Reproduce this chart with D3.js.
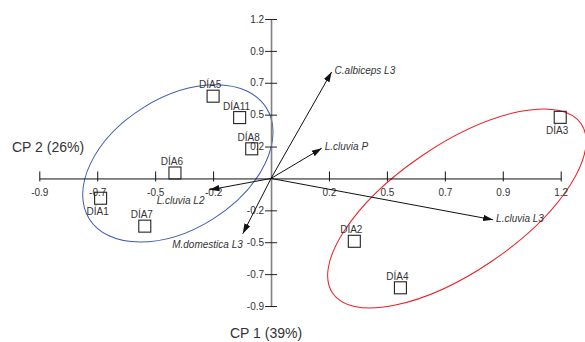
<!DOCTYPE html>
<html>
<head>
<meta charset="utf-8">
<script src="https://cdn.jsdelivr.net/npm/d3@7"></script>
<style>
  body { margin: 0; background: #fff; }
  text { font-family: "Liberation Sans", Arial, sans-serif; fill: #333; }
</style>
</head>
<body>
<div id="biplot"></div>
<script>
// samples (scores)
var dias = ["DÍA1", "DÍA2", "DÍA3", "DÍA4", "DÍA5", "DÍA6", "DÍA7", "DÍA8", "DÍA11"];
var cp1 = [-0.706, 0.345, 1.198, 0.536, -0.24, -0.398, -0.523, -0.08, -0.13];
var cp2 = [-0.149, -0.473, 0.46, -0.823, 0.619, 0.041, -0.359, 0.223, 0.458];

// species (loadings)
var species = ["C.albiceps L3", "L.cluvia P", "L.cluvia L3", "L.cluvia L2", "M.domestica L3"];
var load1 = [0.251, 0.21, 0.92, -0.255, -0.117];
var load2 = [0.801, 0.227, -0.311, -0.086, -0.416];

// group ellipses: centre, semi axes (CP1 units), tilt in degrees
var groupCx = [-0.386, 0.77];
var groupCy = [0.113, -0.226];
var groupRa = [0.433, 0.623];
var groupRb = [0.272, 0.262];
var groupTilt = [32.1, 34.3];

// ticks
var tickVals = [-0.96, -0.72, -0.48, -0.24, 0.24, 0.48, 0.72, 0.96, 1.2];
var xTickLabels = ["-0.9", "-0.7", "-0.5", "-0.2", "0.2", "0.5", "0.7", "0.9", "1.2"];
var yTickLabels = ["-0.9", "-0.7", "-0.5", "-0.2", "0.2", "0.5", "0.7", "0.9", "1.2"];

var margin = {top: 19, right: 24, bottom: 36, left: 39},
    width = 585 - margin.left - margin.right,
    height = 342 - margin.top - margin.bottom;

var svg = d3.select("#biplot")
  .append("svg")
    .attr("width", 585)
    .attr("height", 342)
  .append("g")
    .attr("transform", "translate(" + margin.left + "," + margin.top + ")");

var x = d3.scaleLinear().domain([-0.96, 1.2]).range([0.3, width - 0.3]);
var y = d3.scaleLinear().domain([-0.96, 1.2]).range([height, 0]);

svg.append("defs").append("marker")
  .attr("id", "head")
  .attr("viewBox", "0 -4 10 8")
  .attr("refX", 10).attr("refY", 0)
  .attr("markerUnits", "userSpaceOnUse")
  .attr("markerWidth", 10).attr("markerHeight", 8)
  .attr("orient", "auto")
  .append("path")
    .attr("d", "M0,-3.2L10,0L0,3.2Z")
    .attr("fill", "#111");

// ellipses
var ellColors = ["#3b5cb0", "#ec1c24"];
groupCx.forEach(function (c, i) {
  svg.append("ellipse")
    .attr("cx", 0).attr("cy", 0)
    .attr("rx", x(groupRa[i]) - x(0))
    .attr("ry", x(groupRb[i]) - x(0))
    .attr("transform", "translate(" + x(c) + "," + y(groupCy[i]) + ") rotate(" + (-groupTilt[i]) + ")")
    .attr("fill", "none")
    .attr("stroke", ellColors[i])
    .attr("stroke-width", 1);
});

// X axis
var xAxis = svg.append("g")
  .attr("transform", "translate(0," + y(0) + ")")
  .call(d3.axisBottom(x).tickValues(tickVals).tickSizeOuter(0).tickSize(0).tickPadding(10)
    .tickFormat(function (d, i) { return xTickLabels[i]; }));
xAxis.select(".domain").attr("stroke", "#111");
xAxis.selectAll(".tick line").attr("y1", -7).attr("y2", 3).attr("stroke", "#111");
xAxis.selectAll(".tick text").style("font-size", "10px").attr("fill", "#333")
  .style("font-family", "Liberation Sans, Arial, sans-serif");

// Y axis
var yAxis = svg.append("g")
  .attr("transform", "translate(" + x(0) + ",0)")
  .call(d3.axisLeft(y).tickValues(tickVals).tickSizeOuter(0).tickSize(0).tickPadding(7)
    .tickFormat(function (d, i) { return yTickLabels[i]; }));
yAxis.select(".domain").attr("stroke", "#808080").attr("stroke-width", 1.6);
yAxis.selectAll(".tick line").attr("x1", -6).attr("x2", 6).attr("stroke", "#222");
yAxis.selectAll(".tick text").style("font-size", "10px").attr("fill", "#333")
  .style("font-family", "Liberation Sans, Arial, sans-serif");

// species arrows
var vec = species.map(function (s, i) { return {name: s, a: load1[i], b: load2[i]}; });
svg.append("g").selectAll("line")
  .data(vec)
  .enter()
  .append("line")
    .attr("x1", x(0)).attr("y1", y(0))
    .attr("x2", function (d) { return x(d.a); })
    .attr("y2", function (d) { return y(d.b); })
    .attr("stroke", "#111")
    .attr("stroke-width", 1)
    .attr("marker-end", "url(#head)");

var below = function (d) { return d.a < 0; };
svg.append("g")
  .style("font-size", "10px")
  .style("font-style", "italic")
  .selectAll("text")
  .data(vec)
  .enter()
  .append("text")
    .text(function (d) { return d.name; })
    .attr("x", function (d) { return x(d.a) + (below(d) ? (d.a < -0.2 ? -5 : 0) : 3); })
    .attr("y", function (d) { return y(d.b) + (below(d) ? 14 : 2); })
    .attr("text-anchor", function (d) { return below(d) ? "end" : "start"; });

// sample squares
var pts = dias.map(function (s, i) { return {name: s, a: cp1[i], b: cp2[i]}; });
var under = ["DÍA1", "DÍA3"];
svg.append("g").selectAll("rect")
  .data(pts)
  .enter()
  .append("rect")
    .attr("x", function (d) { return x(d.a) - 6; })
    .attr("y", function (d) { return y(d.b) - 6; })
    .attr("width", 12).attr("height", 12)
    .attr("fill", "none")
    .attr("stroke", "#222")
    .attr("stroke-width", 1.1);

svg.append("g")
  .style("font-size", "10px")
  .selectAll("text")
  .data(pts)
  .enter()
  .append("text")
    .text(function (d) { return d.name; })
    .attr("x", function (d) { return x(d.a) - 3; })
    .attr("y", function (d) { return y(d.b) + (under.indexOf(d.name) >= 0 ? 17 : -8); })
    .attr("text-anchor", "middle");

// axis titles
svg.append("text")
  .attr("x", 12 - margin.left)
  .attr("y", 151.5 - margin.top)
  .style("font-size", "14px")
  .text("CP 2 (26%)");

svg.append("text")
  .attr("x", 230 - margin.left)
  .attr("y", 338 - margin.top)
  .style("font-size", "14px")
  .text("CP 1 (39%)");
</script>
</body>
</html>
